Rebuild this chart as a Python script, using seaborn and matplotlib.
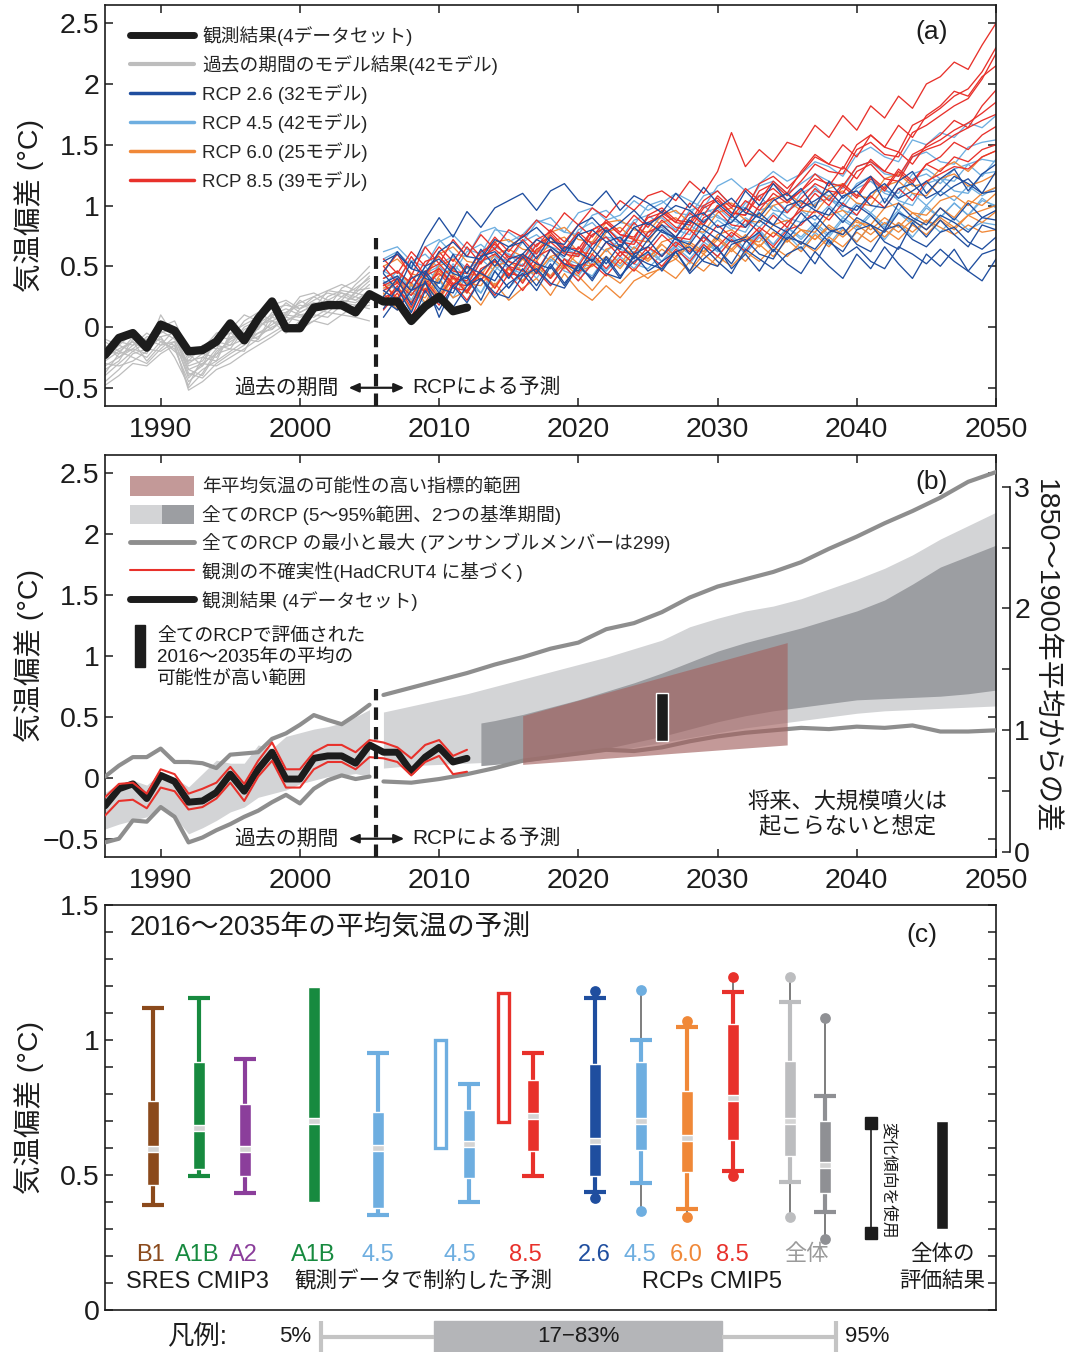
import numpy as np
import pandas as pd
import matplotlib
matplotlib.use("Agg")
import matplotlib.pyplot as plt
import seaborn as sns
from matplotlib.lines import Line2D
from matplotlib.patches import Patch, Rectangle
from matplotlib.legend_handler import HandlerTuple

sns.set_theme(style="ticks")
plt.rcParams["font.family"] = ["Liberation Sans", "Noto Sans CJK JP", "DejaVu Sans"]
plt.rcParams["axes.unicode_minus"] = True

# ---------------------------------------------------------------------------
# Observations: global mean temperature anomaly relative to 1986-2005 (°C)
# ---------------------------------------------------------------------------
obs_years = np.arange(1986, 2013)
obs = [-0.23, -0.09, -0.05, -0.17, 0.02, -0.03, -0.20, -0.19, -0.12, 0.03,
       -0.11, 0.07, 0.21, -0.01, -0.01, 0.16, 0.18, 0.18, 0.12, 0.27,
       0.21, 0.21, 0.05, 0.17, 0.25, 0.13, 0.16]
obs_upper = [-0.16, -0.05, -0.04, -0.13, 0.07, 0.03, -0.13, -0.09, -0.04, 0.09,
             -0.05, 0.14, 0.29, 0.07, 0.07, 0.21, 0.27, 0.27, 0.21, 0.31,
             0.29, 0.25, 0.16, 0.27, 0.31, 0.18, 0.23]
obs_lower = [-0.31, -0.19, -0.18, -0.25, -0.08, -0.11, -0.26, -0.24, -0.17, -0.04,
             -0.19, 0.01, 0.14, -0.08, -0.08, 0.07, 0.13, 0.13, 0.07, 0.17,
             0.16, 0.13, 0.02, 0.13, 0.18, 0.03, 0.05]

# Historical model runs 1986-2005 (hundredths of °C)
hist_years = np.arange(1986, 2006)
hist_runs = [
    [-25, -18, -12, -20, -8, -5, -35, -30, -22, -10, -5, 0, 8, 5, 12, 18, 15, 25, 22, 30],
    [-32, -25, -15, -10, -15, -12, -40, -32, -18, -15, -10, -5, 2, 10, 8, 12, 20, 18, 28, 25],
    [-18, -22, -8, -15, 5, -2, -28, -25, -15, -18, -2, 3, 10, 12, 18, 15, 22, 28, 25, 35],
    [-40, -30, -20, -25, -12, -18, -45, -35, -28, -20, -12, -8, 0, 5, 10, 8, 15, 20, 18, 22],
    [-10, -15, -20, -12, -5, 0, -25, -20, -10, -5, 2, 8, 15, 18, 15, 22, 28, 25, 32, 40],
    [-28, -20, -25, -30, -18, -8, -38, -42, -30, -22, -15, -5, -2, 8, 5, 15, 12, 22, 20, 28],
    [-35, -28, -10, -18, -3, -10, -30, -22, -25, -8, -8, 2, 5, 0, 15, 20, 18, 15, 30, 32],
    [-22, -12, -15, -5, -12, -15, -50, -38, -20, -12, -5, -10, 10, 15, 10, 12, 25, 30, 28, 38],
    [-15, -25, -18, -22, 2, -5, -32, -28, -12, -15, 0, 5, -2, 12, 20, 25, 18, 22, 35, 45],
    [-45, -35, -22, -18, -20, -12, -42, -30, -32, -25, -18, -10, 5, -5, 5, 10, 8, 18, 15, 18],
    [-20, -10, -5, -12, -10, -20, -28, -15, -18, 0, -5, -2, 12, 8, 22, 15, 30, 28, 22, 30],
    [-30, -32, -28, -20, 10, -8, -35, -40, -22, -18, -20, 0, 8, 20, 12, 18, 15, 32, 38, 50],
    [-12, -20, -12, -28, -15, -2, -22, -32, -8, -10, 5, 12, 5, 10, 25, 28, 22, 20, 25, 20],
    [-38, -22, -18, -8, -8, -25, -48, -25, -28, -5, -10, -12, -5, 2, 0, 5, 12, 10, 18, 15],
    [-26, -15, -5, -15, 0, 5, -20, -18, -5, -2, 10, 5, 18, 22, 15, 25, 30, 35, 30, 42],
    [-48, -40, -30, -32, -22, -15, -52, -45, -35, -30, -22, -15, -8, 0, -2, 5, 2, 10, 8, 5],
]

# RCP projections 2006-2050 (hundredths of °C)
rcp_years = np.arange(2006, 2051)
rcp26_runs = [
    [45, 62, 48, 72, 90, 74, 95, 82, 98, 104, 110, 96, 112, 118, 104, 100, 112, 96, 108, 102,
     94, 110, 98, 115, 102, 92, 112, 100, 118, 104, 114, 98, 120, 106, 116, 124, 102, 120, 128, 110,
     122, 130, 112, 126, 134],
    [30, 22, 40, 46, 32, 28, 50, 44, 38, 56, 60, 52, 48, 66, 62, 54, 70, 74, 60, 66,
     80, 72, 68, 84, 78, 70, 74, 88, 80, 72, 86, 92, 80, 76, 90, 84, 78, 94, 88, 80,
     92, 86, 78, 90, 88],
    [15, 32, 12, 38, 8, 34, 42, 22, 46, 32, 48, 34, 52, 36, 50, 40, 58, 42, 54, 62,
     46, 62, 44, 56, 66, 48, 60, 46, 64, 52, 44, 62, 50, 40, 60, 48, 66, 52, 40, 60,
     50, 64, 46, 38, 56],
    [54, 60, 48, 44, 62, 70, 58, 56, 72, 66, 74, 82, 70, 68, 84, 90, 78, 86, 96, 84,
     92, 100, 96, 86, 98, 106, 94, 90, 104, 110, 98, 104, 112, 100, 96, 110, 118, 106, 112, 120,
     108, 116, 122, 110, 112],
    [25, 40, 18, 44, 28, 50, 34, 46, 56, 40, 58, 44, 64, 52, 46, 64, 52, 68, 56, 72,
     58, 74, 60, 76, 64, 52, 70, 78, 62, 78, 68, 82, 70, 62, 80, 84, 70, 64, 86, 74,
     88, 76, 66, 84, 80],
    [36, 42, 30, 50, 56, 44, 40, 58, 62, 50, 60, 72, 66, 58, 76, 80, 70, 64, 82, 86,
     78, 74, 90, 94, 82, 86, 98, 90, 84, 100, 104, 96, 92, 108, 112, 100, 98, 114, 118, 106,
     112, 124, 118, 110, 128],
    [8, 24, 2, 30, 14, 34, 20, 40, 24, 36, 44, 30, 50, 34, 52, 38, 56, 40, 60, 46,
     54, 62, 46, 66, 54, 44, 64, 56, 48, 60, 66, 52, 72, 58, 66, 54, 48, 66, 60, 52,
     64, 54, 46, 60, 64],
    [44, 30, 54, 40, 36, 60, 44, 64, 50, 66, 70, 56, 74, 62, 76, 64, 80, 66, 82, 72,
     84, 74, 88, 80, 72, 92, 82, 94, 84, 78, 94, 82, 98, 86, 100, 92, 80, 102, 90, 84,
     98, 88, 102, 90, 96],
    [22, 14, 30, 36, 20, 16, 34, 40, 28, 24, 42, 48, 36, 32, 50, 56, 44, 40, 58, 52,
     48, 62, 66, 54, 50, 68, 72, 60, 56, 74, 70, 64, 78, 82, 68, 62, 80, 84, 72, 66,
     78, 82, 70, 64, 74],
]
rcp45_runs = [
    [40, 46, 36, 30, 52, 58, 48, 54, 66, 60, 56, 68, 74, 64, 60, 76, 82, 72, 70, 86,
     90, 80, 76, 94, 98, 88, 84, 100, 106, 96, 102, 112, 108, 98, 114, 120, 110, 106, 122, 126,
     118, 130, 134, 124, 138],
    [20, 32, 12, 36, 22, 42, 28, 46, 34, 50, 38, 52, 42, 56, 48, 42, 58, 50, 62, 66,
     54, 68, 60, 74, 62, 76, 64, 80, 68, 82, 72, 84, 74, 88, 80, 92, 82, 94, 84, 98,
     90, 102, 92, 104, 100],
    [56, 62, 50, 66, 72, 60, 58, 78, 82, 70, 76, 88, 84, 78, 94, 98, 88, 92, 104, 96,
     102, 110, 104, 98, 116, 122, 112, 118, 128, 120, 126, 136, 132, 124, 142, 148, 140, 136, 154, 150,
     160, 156, 168, 164, 174],
    [30, 42, 22, 44, 30, 48, 36, 28, 50, 40, 52, 40, 56, 46, 42, 58, 46, 62, 52, 48,
     60, 66, 52, 68, 58, 72, 60, 74, 62, 76, 64, 78, 68, 82, 70, 84, 72, 86, 74, 88,
     78, 90, 80, 86, 84],
    [46, 40, 54, 60, 48, 44, 62, 68, 58, 54, 70, 76, 66, 62, 80, 86, 74, 72, 88, 92,
     84, 80, 96, 100, 90, 86, 102, 108, 96, 94, 110, 116, 104, 102, 118, 124, 112, 110, 126, 130,
     122, 120, 134, 138, 136],
    [24, 14, 34, 18, 38, 24, 42, 28, 46, 32, 44, 48, 34, 50, 38, 54, 46, 58, 48, 62,
     54, 66, 56, 70, 62, 74, 62, 78, 68, 82, 74, 86, 76, 90, 82, 94, 84, 96, 86, 100,
     90, 102, 92, 106, 98],
    [62, 66, 54, 50, 70, 76, 64, 60, 80, 78, 70, 86, 90, 78, 76, 92, 96, 86, 84, 100,
     104, 94, 92, 108, 112, 100, 98, 116, 120, 110, 118, 126, 120, 114, 132, 136, 126, 124, 140, 144,
     136, 134, 148, 152, 154],
    [34, 46, 30, 50, 36, 52, 40, 56, 46, 60, 50, 64, 54, 66, 58, 70, 62, 72, 64, 78,
     80, 68, 84, 76, 88, 80, 90, 82, 94, 86, 96, 88, 100, 90, 102, 94, 106, 96, 110, 100,
     112, 104, 116, 108, 115],
    [38, 30, 26, 44, 50, 40, 36, 54, 58, 48, 44, 62, 66, 56, 52, 70, 74, 64, 60, 78,
     82, 72, 70, 88, 92, 82, 78, 96, 100, 90, 86, 102, 106, 96, 92, 110, 114, 104, 100, 118,
     122, 112, 110, 126, 128],
]
rcp60_runs = [
    [28, 14, 36, 20, 40, 24, 30, 18, 36, 22, 32, 40, 26, 44, 30, 22, 34, 24, 38, 44,
     48, 40, 54, 46, 58, 50, 62, 54, 66, 58, 70, 62, 74, 66, 78, 70, 80, 72, 84, 76,
     88, 80, 92, 96, 100],
    [40, 46, 34, 30, 50, 56, 44, 42, 60, 64, 58, 54, 70, 74, 62, 60, 78, 82, 72, 70,
     86, 90, 80, 78, 94, 98, 88, 86, 100, 104, 96, 94, 108, 112, 102, 100, 116, 120, 110, 108,
     122, 126, 116, 120, 126],
    [20, 32, 14, 36, 22, 40, 28, 44, 32, 48, 38, 52, 42, 56, 46, 50, 58, 48, 62, 54,
     64, 56, 68, 60, 72, 62, 74, 66, 78, 70, 80, 72, 84, 76, 88, 80, 90, 82, 94, 86,
     98, 90, 104, 100, 110],
    [50, 56, 44, 40, 60, 66, 54, 52, 70, 72, 64, 62, 78, 82, 72, 70, 86, 88, 80, 78,
     92, 96, 86, 84, 100, 102, 94, 92, 106, 110, 102, 100, 114, 118, 108, 106, 122, 126, 116, 118,
     130, 136, 128, 140, 145],
    [36, 24, 42, 30, 46, 34, 50, 38, 54, 42, 56, 44, 58, 48, 62, 50, 64, 52, 66, 56,
     68, 58, 70, 62, 74, 64, 76, 66, 78, 70, 80, 72, 82, 74, 84, 76, 86, 78, 88, 80,
     90, 82, 92, 86, 95],
    [26, 38, 20, 40, 26, 44, 30, 46, 34, 48, 38, 50, 40, 52, 42, 30, 44, 36, 48, 40,
     50, 56, 46, 60, 50, 64, 54, 68, 58, 72, 62, 76, 66, 80, 70, 84, 74, 86, 78, 88,
     82, 76, 84, 78, 80],
    [32, 38, 28, 24, 42, 48, 36, 34, 50, 54, 46, 44, 58, 62, 52, 50, 64, 68, 58, 56,
     70, 74, 64, 62, 76, 80, 72, 70, 84, 88, 80, 78, 92, 96, 86, 84, 98, 102, 94, 92,
     104, 108, 100, 110, 115],
]
rcp85_runs = [
    [46, 60, 42, 66, 52, 72, 58, 76, 64, 80, 74, 88, 78, 94, 84, 98, 90, 104, 96, 108,
     112, 104, 120, 110, 128, 160, 132, 146, 136, 152, 148, 166, 156, 174, 162, 182, 172, 190, 180, 200,
     206, 218, 212, 232, 250],
    [30, 36, 26, 42, 48, 36, 34, 54, 60, 50, 46, 64, 70, 60, 58, 76, 82, 70, 68, 86,
     92, 82, 80, 98, 104, 94, 92, 112, 118, 108, 120, 134, 128, 126, 146, 152, 142, 140, 160, 166,
     174, 182, 188, 204, 225],
    [50, 36, 58, 42, 62, 48, 66, 52, 70, 56, 72, 60, 76, 64, 78, 68, 82, 70, 86, 74,
     88, 78, 94, 84, 100, 90, 104, 96, 110, 102, 112, 126, 116, 132, 122, 138, 128, 144, 134, 150,
     158, 170, 164, 182, 195],
    [20, 34, 16, 38, 24, 42, 28, 46, 32, 50, 36, 54, 40, 56, 44, 60, 48, 62, 52, 66,
     58, 70, 62, 74, 66, 78, 70, 82, 74, 86, 96, 110, 100, 116, 106, 122, 112, 128, 118, 134,
     140, 152, 146, 158, 165],
    [40, 46, 36, 54, 58, 46, 44, 62, 68, 58, 56, 72, 78, 66, 64, 80, 86, 76, 74, 90,
     94, 86, 84, 100, 106, 94, 92, 108, 114, 104, 112, 122, 118, 116, 132, 136, 128, 124, 142, 148,
     154, 162, 168, 176, 185],
    [36, 22, 42, 28, 48, 34, 52, 38, 56, 42, 60, 46, 64, 50, 66, 54, 70, 58, 72, 62,
     76, 66, 80, 70, 84, 74, 88, 78, 92, 82, 100, 114, 104, 118, 108, 124, 114, 130, 120, 134,
     128, 140, 136, 146, 150],
    [24, 30, 20, 36, 44, 32, 30, 48, 54, 44, 42, 58, 64, 52, 50, 68, 74, 62, 60, 78,
     84, 74, 72, 90, 96, 84, 82, 100, 106, 94, 106, 118, 112, 110, 128, 134, 122, 120, 140, 146,
     150, 158, 164, 170, 175],
    [56, 44, 62, 50, 66, 54, 70, 58, 74, 62, 76, 66, 80, 70, 84, 74, 88, 78, 92, 82,
     96, 86, 102, 92, 108, 98, 114, 104, 120, 110, 128, 142, 134, 150, 140, 158, 148, 166, 156, 174,
     182, 194, 190, 206, 215],
    [14, 28, 8, 32, 18, 36, 22, 40, 26, 44, 30, 46, 34, 50, 38, 52, 42, 56, 46, 60,
     50, 64, 54, 68, 58, 72, 62, 76, 66, 80, 84, 96, 88, 102, 92, 108, 98, 114, 104, 120,
     126, 132, 130, 140, 145],
    [34, 40, 30, 46, 52, 40, 38, 58, 64, 54, 50, 68, 74, 62, 60, 80, 86, 76, 72, 92,
     98, 88, 86, 104, 112, 100, 96, 118, 124, 114, 126, 140, 134, 130, 150, 158, 148, 144, 166, 172,
     180, 190, 196, 210, 230],
]

# ---------------------------------------------------------------------------
# Panel (b) envelopes
# ---------------------------------------------------------------------------
env_hist_years = np.arange(1986, 2006)
range_hist_lo = [-0.42, -0.38, -0.35, -0.32, -0.23, -0.32, -0.46, -0.41, -0.35, -0.28,
                 -0.24, -0.16, -0.13, -0.10, -0.05, -0.02, 0.01, 0.02, 0.035, 0.01]
range_hist_hi = [-0.12, -0.05, -0.02, -0.06, 0.04, 0.00, -0.075, 0.035, 0.145, 0.12,
                 0.12, 0.27, 0.24, 0.34, 0.37, 0.40, 0.42, 0.45, 0.50, 0.56]
ens_max_hist = [0.01, 0.10, 0.17, 0.17, 0.24, 0.13, 0.13, 0.12, 0.08, 0.19,
                0.20, 0.21, 0.32, 0.365, 0.435, 0.515, 0.475, 0.44, 0.515, 0.60]
ens_min_hist = [-0.53, -0.50, -0.35, -0.36, -0.24, -0.32, -0.53, -0.49, -0.43, -0.38,
                -0.32, -0.27, -0.20, -0.14, -0.21, -0.09, -0.02, 0.02, -0.01, 0.01]

env_fut_years = np.arange(2006, 2051, 2)
range_fut_hi = [0.54, 0.59, 0.64, 0.69, 0.75, 0.81, 0.87, 0.93, 0.99, 1.06, 1.13, 1.24,
                1.31, 1.37, 1.41, 1.47, 1.55, 1.63, 1.72, 1.83, 1.96, 2.07, 2.18]
range_fut_lo = [0.08, 0.10, 0.11, 0.12, 0.13, 0.15, 0.17, 0.19, 0.22, 0.25, 0.29, 0.33,
                0.37, 0.41, 0.44, 0.47, 0.50, 0.53, 0.55, 0.56, 0.57, 0.58, 0.59]
ens_max_fut = [0.68, 0.74, 0.80, 0.86, 0.93, 0.99, 1.06, 1.11, 1.22, 1.27, 1.36, 1.48,
               1.57, 1.63, 1.69, 1.77, 1.88, 1.98, 2.09, 2.19, 2.30, 2.43, 2.51]
ens_min_fut = [-0.03, -0.04, -0.01, 0.03, 0.08, 0.14, 0.17, 0.20, 0.23, 0.22, 0.25, 0.30,
               0.34, 0.37, 0.39, 0.41, 0.40, 0.42, 0.41, 0.43, 0.38, 0.38, 0.39]

recent_years = [2013, 2014, 2016, 2018, 2020, 2022, 2024, 2026, 2028, 2030,
                2032, 2034, 2036, 2038, 2040, 2042, 2044, 2046, 2048, 2050]
recent_hi = [0.45, 0.47, 0.52, 0.58, 0.64, 0.71, 0.78, 0.86, 0.95, 1.04,
             1.11, 1.17, 1.23, 1.30, 1.37, 1.46, 1.59, 1.73, 1.82, 1.91]
recent_lo = [0.10, 0.11, 0.13, 0.16, 0.20, 0.24, 0.29, 0.34, 0.40, 0.46,
             0.51, 0.55, 0.58, 0.61, 0.64, 0.65, 0.66, 0.67, 0.69, 0.72]

indicative_years = [2016, 2035]
indicative_lo = [0.11, 0.27]
indicative_hi = [0.51, 1.11]
assessed_year = 2026
assessed_lo, assessed_hi = 0.30, 0.70

# ---------------------------------------------------------------------------
# Panel (c): 2016-2035 mean projections (5, 17, 50, 83, 95 %; min/max dots)
# ---------------------------------------------------------------------------
cmip3_stats = [(0.389, 0.463, 0.595, 0.774, 1.12),
               (0.4975, 0.521, 0.673, 0.917, 1.154),
               (0.432, 0.4975, 0.595, 0.762, 0.93)]
constrained_a1b = (0.399, 0.70, 1.195)
constrained_45_stats = [(0.352, 0.377, 0.601, 0.735, 0.951),
                        (0.401, 0.488, 0.615, 0.741, 0.837)]
constrained_85_stats = (0.4975, 0.589, 0.72, 0.852, 0.951)
constrained_45_open = (0.601, 1.00)
constrained_85_open = (0.698, 1.175)
cmip5_stats = [(0.436, 0.496, 0.626, 0.911, 1.157),
               (0.472, 0.593, 0.700, 0.917, 1.000),
               (0.374, 0.512, 0.636, 0.811, 1.049),
               (0.515, 0.630, 0.784, 1.058, 1.179),
               (0.475, 0.570, 0.700, 0.923, 1.142),
               (0.364, 0.432, 0.537, 0.700, 0.793)]
cmip5_minmax = [(0.416, 1.183), (0.368, 1.185), (0.346, 1.072),
                (0.496, 1.235), (0.346, 1.235), (0.263, 1.080)]
trend_range = (0.286, 0.691)
overall_range = (0.299, 0.701)

# ---------------------------------------------------------------------------
# Colours
# ---------------------------------------------------------------------------
C26, C45, C60, C85 = "#1f4e9f", "#6eaee0", "#f08838", "#e8312b"
BROWN, GREEN, PURPLE = "#8b4a1c", "#178a3f", "#8b3e9b"
GREY_ALL, GREY_DARK = "#bcbdbf", "#8f9094"
BAND_LIGHT, BAND_DARK = "#d3d4d6", "#9c9ea2"
ENV_LINE = "#8e8e8e"
PINK = (0.64, 0.39, 0.38, 0.65)
INK = "#1c1c1c"

W, H = 1070, 1352


def frame(left, top, right, bottom):
    return [left / W, 1 - bottom / H, (right - left) / W, (bottom - top) / H]


fig = plt.figure(figsize=(W / 100, H / 100), dpi=100)
fig.patch.set_facecolor("white")
ax_a = fig.add_axes(frame(105, 5, 996, 406))
ax_b = fig.add_axes(frame(105, 455, 996, 857))
ax_c = fig.add_axes(frame(105, 905, 996, 1310))

year_ticks = [1990, 2000, 2010, 2020, 2030, 2040, 2050]
anom_ticks = [-0.5, 0, 0.5, 1, 1.5, 2, 2.5]
anom_labels = ["−0.5", "0", "0.5", "1", "1.5", "2", "2.5"]
split_year, split_top = 2005.5, 0.73
YLABEL_X = -0.068


def style_series_axes(ax, tag):
    ax.set_xlim(1986, 2050)
    ax.set_ylim(-0.65, 2.65)
    ax.set_xticks(year_ticks)
    ax.set_xticklabels([str(y) for y in year_ticks])
    ax.set_yticks(anom_ticks)
    ax.set_yticklabels(anom_labels)
    ax.tick_params(axis="both", direction="in", length=6, width=1.1, top=True,
                   right=True, labelsize=20.5, colors=INK)
    ax.tick_params(axis="x", pad=8)
    ax.tick_params(axis="y", pad=4)
    ax.set_xlabel("")
    ax.set_ylabel("気温偏差 (°C)", fontsize=20.5, color=INK)
    ax.yaxis.set_label_coords(YLABEL_X, 0.5)
    for s in ax.spines.values():
        s.set_linewidth(1.2)
        s.set_color(INK)
    ax.vlines(split_year, -0.65, split_top, colors=INK, lw=3, linestyles=(0, (3, 1.7)), zorder=6)
    ax.text(2002.8, -0.5, "過去の期間", ha="right", va="center", fontsize=15, color=INK)
    ax.text(2008.1, -0.5, "RCPによる予測", ha="left", va="center", fontsize=15, color=INK)
    ax.annotate("", xy=(2003.5, -0.5), xytext=(2007.5, -0.5),
                arrowprops=dict(arrowstyle="<|-|>,head_length=0.5,head_width=0.22",
                                color=INK, lw=1.6, shrinkA=0, shrinkB=0))
    ax.text(0.928, 0.933, tag, transform=ax.transAxes, ha="center", va="center",
            fontsize=19, color=INK)


# ---------------------------- panel (a) ------------------------------------
hist_df = pd.concat([
    pd.DataFrame({"year": hist_years, "anom": np.array(r) / 100, "run": f"h{k}"})
    for k, r in enumerate(hist_runs)])
sns.lineplot(data=hist_df, x="year", y="anom", units="run", estimator=None,
             color="#bdbdbd", linewidth=0.9, ax=ax_a, legend=False)

scenario_runs = {"RCP 4.5": rcp45_runs, "RCP 6.0": rcp60_runs,
                 "RCP 8.5": rcp85_runs, "RCP 2.6": rcp26_runs}
rcp_df = pd.concat([
    pd.DataFrame({"year": rcp_years, "anom": np.array(r) / 100,
                  "scenario": name, "run": f"{name}-{k}"})
    for name, runs in scenario_runs.items() for k, r in enumerate(runs)])
sns.lineplot(data=rcp_df, x="year", y="anom", hue="scenario", units="run",
             estimator=None, hue_order=list(scenario_runs),
             palette={"RCP 2.6": C26, "RCP 4.5": C45, "RCP 6.0": C60, "RCP 8.5": C85},
             linewidth=0.95, ax=ax_a, legend=False)

sns.lineplot(x=obs_years, y=obs, color=INK, linewidth=6, ax=ax_a, zorder=5)
style_series_axes(ax_a, "(a)")

legend_a = [
    (Line2D([], [], color=INK, lw=5), "観測結果(4データセット)"),
    (Line2D([], [], color="#bdbdbd", lw=3), "過去の期間のモデル結果(42モデル)"),
    (Line2D([], [], color=C26, lw=2.5), "RCP 2.6 (32モデル)"),
    (Line2D([], [], color=C45, lw=2.5), "RCP 4.5 (42モデル)"),
    (Line2D([], [], color=C60, lw=2.5), "RCP 6.0 (25モデル)"),
    (Line2D([], [], color=C85, lw=2.5), "RCP 8.5 (39モデル)"),
]
ax_a.legend([h for h, _ in legend_a], [t for _, t in legend_a], loc="upper left",
            bbox_to_anchor=(0.028, 0.948), frameon=False, fontsize=13.5,
            handlelength=3.4, handletextpad=0.45, labelspacing=0.49,
            borderaxespad=0, borderpad=0)

# ---------------------------- panel (b) ------------------------------------
ax_b.fill_between(env_hist_years, range_hist_lo, range_hist_hi, color=BAND_LIGHT, lw=0, zorder=1)
ax_b.fill_between(env_fut_years, range_fut_lo, range_fut_hi, color=BAND_LIGHT, lw=0, zorder=1)
ax_b.fill_between(recent_years, recent_lo, recent_hi, color=BAND_DARK, lw=0, zorder=2)
sns.lineplot(x=env_hist_years, y=ens_max_hist, color=ENV_LINE, linewidth=3, ax=ax_b, zorder=3)
sns.lineplot(x=env_hist_years, y=ens_min_hist, color=ENV_LINE, linewidth=3, ax=ax_b, zorder=3)
sns.lineplot(x=env_fut_years, y=ens_max_fut, color=ENV_LINE, linewidth=3, ax=ax_b, zorder=3)
sns.lineplot(x=env_fut_years, y=ens_min_fut, color=ENV_LINE, linewidth=3, ax=ax_b, zorder=3)
ax_b.fill_between(indicative_years, indicative_lo, indicative_hi, color=PINK, lw=0, zorder=4)
ax_b.bar(assessed_year, assessed_hi - assessed_lo, bottom=assessed_lo, width=0.9,
         color=INK, zorder=5)
sns.lineplot(x=obs_years, y=obs, color=INK, linewidth=5, ax=ax_b, zorder=5)
sns.lineplot(x=obs_years, y=obs_upper, color=C85, linewidth=1.5, ax=ax_b, zorder=6)
sns.lineplot(x=obs_years, y=obs_lower, color=C85, linewidth=1.5, ax=ax_b, zorder=6)
style_series_axes(ax_b, "(b)")

ax_b.text(0.833, 0.104, "将来、大規模噴火は\n起こらないと想定", transform=ax_b.transAxes,
          ha="center", va="center", multialignment="center", fontsize=16,
          linespacing=1.2, color=INK)

legend_b = [
    (Patch(facecolor=PINK, lw=0), "年平均気温の可能性の高い指標的範囲"),
    ((Patch(facecolor=BAND_LIGHT, lw=0), Patch(facecolor=BAND_DARK, lw=0)),
     "全てのRCP (5～95%範囲、2つの基準期間)"),
    (Line2D([], [], color=ENV_LINE, lw=3.5), "全てのRCP の最小と最大 (アンサンブルメンバーは299)"),
    (Line2D([], [], color=C85, lw=1.5), "観測の不確実性(HadCRUT4 に基づく)"),
    (Line2D([], [], color=INK, lw=5), "観測結果 (4データセット)"),
]
ax_b.legend([h for h, _ in legend_b], [t for _, t in legend_b], loc="upper left",
            bbox_to_anchor=(0.028, 0.947), frameon=False, fontsize=13.5,
            handlelength=3.4, handleheight=1.2, handletextpad=0.45, labelspacing=0.45,
            borderaxespad=0, borderpad=0,
            handler_map={tuple: HandlerTuple(ndivide=None, pad=0)})
ax_b.add_patch(Rectangle((0.0337, 0.473), 0.0112, 0.104, transform=ax_b.transAxes,
                         color=INK, zorder=6))
ax_b.text(0.0584, 0.495, "全てのRCPで評価された\n2016～2035年の平均の\n可能性が高い範囲",
          transform=ax_b.transAxes, ha="left", va="center", fontsize=13.5,
          linespacing=1.3, color=INK)

offset_1850 = 0.61
sec = ax_b.secondary_yaxis(1.0157, functions=(lambda v: v + offset_1850,
                                              lambda v: v - offset_1850))
sec.set_yticks([0, 0.5, 1, 1.5, 2, 2.5, 3])
sec.set_yticklabels(["0", "", "1", "", "2", "", "3"])
sec.tick_params(direction="in", length=6, width=1.1, labelsize=20.5, pad=3, colors=INK)
for side in ("left", "right"):
    sec.spines[side].set_bounds(0, 3)
    sec.spines[side].set_linewidth(1.2)
    sec.spines[side].set_color(INK)
sec.set_ylabel("1850～1900年平均からの差", rotation=270, fontsize=20.5, labelpad=1, color=INK)
sec.yaxis.label.set_verticalalignment("bottom")

# ---------------------------- panel (c) ------------------------------------
slot_x = {"B1": 48, "A1B": 94, "A2": 140, "A1Bc": 209, "45c1": 273, "45open": 335,
          "45c2": 364, "85open": 398, "85c": 428, "26": 490, "45": 536, "60": 582,
          "85": 628, "all": 685, "all2": 719.5, "trend": 766, "overall": 837}
BOX_W, CAP_W, MED_H = 12, 22, 0.022


def draw_box(ax, x, stats, color, minmax=None):
    p5, p17, p50, p83, p95 = stats
    if minmax is not None:
        ax.vlines(x, minmax[0], p5, colors="#5a5a5a", lw=1.1, zorder=2)
        ax.vlines(x, p95, minmax[1], colors="#5a5a5a", lw=1.1, zorder=2)
        sns.scatterplot(x=[x, x], y=list(minmax), color=color, s=60, linewidth=0,
                        ax=ax, zorder=4, legend=False)
    ax.vlines(x, p5, p95, colors=color, lw=3, zorder=3)
    ax.hlines([p5, p95], x - CAP_W / 2, x + CAP_W / 2, colors=color, lw=3, zorder=3)
    ax.bar(x, p83 - p17, bottom=p17, width=BOX_W, color=color, zorder=3)
    ax.bar(x, MED_H, bottom=p50 - MED_H / 2, width=BOX_W, color="#d4d4d4", zorder=4)


for key, st, col in zip(["B1", "A1B", "A2"], cmip3_stats, [BROWN, GREEN, PURPLE]):
    draw_box(ax_c, slot_x[key], st, col)

lo, med, hi = constrained_a1b
ax_c.bar(slot_x["A1Bc"], hi - lo, bottom=lo, width=BOX_W, color=GREEN, zorder=3)
ax_c.bar(slot_x["A1Bc"], MED_H, bottom=med - MED_H / 2, width=BOX_W, color="#d4d4d4", zorder=4)
draw_box(ax_c, slot_x["45c1"], constrained_45_stats[0], C45)
draw_box(ax_c, slot_x["45c2"], constrained_45_stats[1], C45)
draw_box(ax_c, slot_x["85c"], constrained_85_stats, C85)
for key, (lo, hi), col in [("45open", constrained_45_open, C45),
                           ("85open", constrained_85_open, C85)]:
    ax_c.bar(slot_x[key], hi - lo, bottom=lo, width=11, fill=False, edgecolor=col,
             lw=2.4, zorder=3)

for key, st, mm, col in zip(["26", "45", "60", "85", "all", "all2"], cmip5_stats,
                            cmip5_minmax, [C26, C45, C60, C85, GREY_ALL, GREY_DARK]):
    draw_box(ax_c, slot_x[key], st, col, mm)

ax_c.vlines(slot_x["trend"], *trend_range, colors=INK, lw=1.2, zorder=3)
ax_c.plot([slot_x["trend"]] * 2, list(trend_range), "s", ms=8, color=INK, zorder=4)
ax_c.bar(slot_x["overall"], overall_range[1] - overall_range[0], bottom=overall_range[0],
         width=BOX_W, color=INK, zorder=3)

ax_c.set_xlim(0, 891)
ax_c.set_ylim(0, 1.5)
ax_c.set_xticks([])
ax_c.set_yticks([0, 0.5, 1, 1.5])
ax_c.set_yticklabels(["0", "0.5", "1", "1.5"])
ax_c.set_yticks(np.arange(1, 15) / 10, minor=True)
ax_c.tick_params(axis="y", which="both", direction="in", length=6, width=1.1,
                 left=True, right=True, labelsize=20.5, pad=4, colors=INK)
ax_c.set_ylabel("気温偏差 (°C)", fontsize=20.5, color=INK)
ax_c.yaxis.set_label_coords(YLABEL_X, 0.5)
for s in ax_c.spines.values():
    s.set_linewidth(1.2)
    s.set_color(INK)

ax_c.text(0.028, 0.943, "2016～2035年の平均気温の予測", transform=ax_c.transAxes,
          ha="left", va="center", fontsize=20, color=INK)
ax_c.text(0.917, 0.926, "(c)", transform=ax_c.transAxes, ha="center", va="center",
          fontsize=19, color=INK)

row1 = [(45, "B1", BROWN), (92, "A1B", GREEN), (138, "A2", PURPLE), (208, "A1B", GREEN),
        (273, "4.5", C45), (355, "4.5", C45), (420, "8.5", C85), (489, "2.6", C26),
        (535, "4.5", C45), (581, "6.0", C60), (627, "8.5", C85)]
for x, t, col in row1:
    ax_c.text(x, 0.204, t, ha="center", va="center", fontsize=17, color=col)
ax_c.text(701, 0.204, "全体", ha="center", va="center", fontsize=16, color="#9a9a9a")
ax_c.text(837, 0.204, "全体の", ha="center", va="center", fontsize=15.5, color=INK)
for x, t in [(92, "SRES CMIP3"), (607, "RCPs CMIP5")]:
    ax_c.text(x, 0.104, t, ha="center", va="center", fontsize=17, color=INK)
for x, t in [(318, "観測データで制約した予測"), (837, "評価結果")]:
    ax_c.text(x, 0.104, t, ha="center", va="center", fontsize=15.5, color=INK)
ax_c.text(784, 0.48, "変化傾向を使用", rotation=270, ha="center", va="center",
          fontsize=12, color=INK)

# ---------------------------- key below (c) --------------------------------
ax_k = fig.add_axes([0, 0, 1, 32 / H])
ax_k.set_xlim(0, W)
ax_k.set_ylim(0, 32)
ax_k.axis("off")
KEY_GREY, KEY_LINE = "#b4b5b8", "#c4c4c4"
ax_k.add_patch(Rectangle((434, 0), 288, 31, color=KEY_GREY))
ax_k.hlines(15, 321, 434, colors=KEY_LINE, lw=3)
ax_k.hlines(15, 722, 836, colors=KEY_LINE, lw=3)
ax_k.vlines([321, 836], 0, 31, colors=KEY_LINE, lw=3)
ax_k.text(197, 16, "凡例:", ha="center", va="center", fontsize=19, color=INK)
ax_k.text(311, 16, "5%", ha="right", va="center", fontsize=16, color=INK)
ax_k.text(578, 16, "17−83%", ha="center", va="center", fontsize=16, color=INK)
ax_k.text(845, 16, "95%", ha="left", va="center", fontsize=16, color=INK)

fig.savefig("out.png", dpi=100, facecolor="white")
